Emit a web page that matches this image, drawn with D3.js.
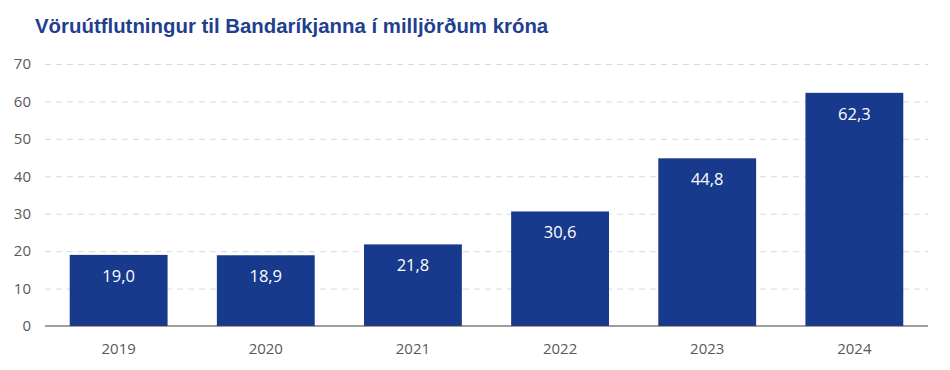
<!DOCTYPE html>
<html><head><meta charset="utf-8">
<script src="https://cdn.jsdelivr.net/npm/d3@7"></script>
<style>body{margin:0;background:#fff}</style>
</head><body>
<svg id="c" width="950" height="370"></svg>
<script>
const years = ["2019","2020","2021","2022","2023","2024"];
const values = [19.0, 18.9, 21.8, 30.6, 44.8, 62.3];
const yTicks = [0,10,20,30,40,50,60,70];
const title = "Vöruútflutningur til Bandaríkjanna í milljörðum króna";

const svg = d3.select("#c");
const m = {l:45, r:22, t:64, b:44};
const W = 950, H = 370;
const x = d3.scaleBand().domain(years).range([m.l, W - m.r]).paddingInner(0.335).paddingOuter(0.168);
const y = d3.scaleLinear().domain([0,70]).range([H - m.b, m.t]);
const font = "Open Sans, Lato, sans-serif";

svg.append("text").attr("x",35).attr("y",33).attr("font-family","Liberation Sans, Arial, sans-serif")
  .attr("font-weight","bold").attr("font-size",20.4).attr("fill","#1f3f8f").text(title);

const yAxis = d3.axisLeft(y).tickValues(yTicks).tickSize(-(W - m.r - m.l)).tickFormat(d3.format("d"));
const gy = svg.append("g").attr("transform",`translate(${m.l},0)`).call(yAxis);
gy.select(".domain").remove();
gy.selectAll(".tick line").attr("stroke","#d9d9d9").attr("stroke-dasharray","6,5").attr("stroke-width",1)
  .filter(d=>d===0).remove();
gy.selectAll(".tick text").attr("x",-14).attr("font-family",font).attr("font-size",15).attr("fill","#595959");

svg.selectAll("rect.bar").data(values).join("rect").attr("class","bar")
  .attr("x",(d,i)=>x(years[i])).attr("width",x.bandwidth())
  .attr("y",d=>y(d)).attr("height",d=>y(0)-y(d)).attr("fill","#173a8c");

svg.append("line").attr("x1",m.l).attr("x2",W-m.r).attr("y1",y(0)).attr("y2",y(0))
  .attr("stroke","#404040").attr("stroke-width",1.2);

svg.selectAll("text.lbl").data(values).join("text").attr("class","lbl")
  .attr("x",(d,i)=>x(years[i])+x.bandwidth()/2).attr("y",d=>y(d)+27)
  .attr("text-anchor","middle").attr("font-family",font).attr("font-size",16.5).attr("fill","#fff")
  .text(d=>d3.format(".1f")(d).replace(".",","));

const xAxis = d3.axisBottom(x).tickSize(0).tickPadding(17);
const gx = svg.append("g").attr("transform",`translate(0,${y(0)})`).call(xAxis);
gx.select(".domain").remove();
gx.selectAll(".tick text").attr("font-family",font).attr("font-size",15).attr("fill","#595959");
</script>
</body></html>
